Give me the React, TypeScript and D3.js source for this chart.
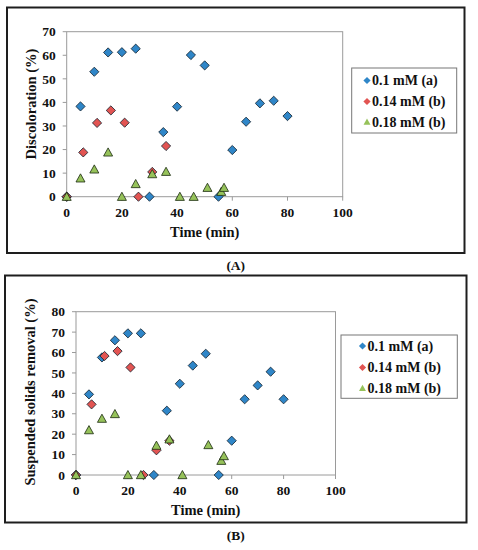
import React from "react";
import * as d3 from "d3";

// ---- Data (A) Discoloration ----
const blueAX = [0, 5, 10, 15, 20, 25, 30, 35, 40, 45, 50, 55, 60, 65, 70, 75, 80];
const blueAY = [0, 38.3, 53, 61.2, 61.3, 62.8, 0, 27.4, 38.2, 60.1, 55.7, 0, 19.8, 31.8, 39.6, 40.7, 34.2];
const redAX = [0, 6, 11, 16, 21, 26, 31, 36];
const redAY = [0, 18.8, 31.3, 36.6, 31.4, 0, 10.5, 21.5];
const greenAX = [0, 5, 10, 15, 20, 25, 31, 36, 41, 46, 51, 56, 57];
const greenAY = [0, 7.8, 11.6, 18.8, 0, 5.4, 9.6, 10.6, 0, 0, 3.8, 2.1, 3.8];

// ---- Data (B) Suspended solids removal ----
const blueBX = [0, 5, 10, 15, 20, 25, 30, 35, 40, 45, 50, 55, 60, 65, 70, 75, 80];
const blueBY = [0, 39.5, 57.6, 66, 69.4, 69.4, 0, 31.5, 44.7, 53.6, 59.4, 0, 16.8, 37.1, 43.9, 50.6, 37.1];
const redBX = [0, 6, 11, 16, 21, 26, 31, 36];
const redBY = [0, 34.6, 58.3, 60.7, 52.7, 0, 12.1, 16.8];
const greenBX = [0, 5, 10, 15, 20, 25, 31, 36, 41, 51, 56, 57];
const greenBY = [0, 22, 27.6, 29.9, 0, 0, 14.4, 17.5, 0, 14.7, 7, 9.3];

const seriesNames = ["0.1 mM (a)", "0.14 mM (b)", "0.18 mM (b)"];
const xTicks = [0, 20, 40, 60, 80, 100];
const yTicksA = [0, 10, 20, 30, 40, 50, 60, 70];
const yTicksB = [0, 10, 20, 30, 40, 50, 60, 70, 80];

const COLORS = ["#2f86c8", "#e25452", "#96c25a"];
const FONT = "'Liberation Serif', 'Times New Roman', serif";

type Pt = [number, number];
const zip = (xs: number[], ys: number[]): Pt[] => xs.map((x, i) => [x, ys[i]]);

function Marker({ kind, x, y, r, color, stroke }: { kind: string; x: number; y: number; r: number; color: string; stroke: boolean }) {
  if (kind === "tri") {
    const h = r * 1.9;
    const w = r * 2.1;
    const d = `M${x},${y - h * 0.55}L${x + w / 2},${y + h * 0.45}L${x - w / 2},${y + h * 0.45}Z`;
    return <path d={d} fill={color} stroke={stroke ? "#1b2a10" : "none"} strokeWidth={0.8} />;
  }
  const d = `M${x},${y - r}L${x + r},${y}L${x},${y + r}L${x - r},${y}Z`;
  return <path d={d} fill={color} stroke={stroke ? "#10202c" : "none"} strokeWidth={0.8} />;
}

function Panel(props: {
  frame: [number, number, number, number];
  plot: [number, number, number, number];
  yMax: number;
  yTicks: number[];
  yTitle: string;
  yTitleX: number;
  yTitleY: number;
  legend: [number, number, number, number];
  legendRows: number[];
  legendMarkerX: number;
  series: Pt[][];
  label: string;
  labelY: number;
}) {
  const [fx0, fy0, fx1, fy1] = props.frame;
  const [px0, py0, px1, py1] = props.plot;
  const x = d3.scaleLinear().domain([0, 100]).range([px0, px1]);
  const y = d3.scaleLinear().domain([0, props.yMax]).range([py1, py0]);
  const kinds = ["dia", "dia", "tri"];
  const [lx0, ly0, lx1, ly1] = props.legend;
  return (
    <g>
      <rect x={fx0} y={fy0} width={fx1 - fx0} height={fy1 - fy0} fill="#fff" stroke="#1e1e1e" strokeWidth={2} />
      <rect x={px0} y={py0} width={px1 - px0} height={py1 - py0} fill="none" stroke="#9a9a9a" strokeWidth={1} />
      {props.yTicks.map((t) => (
        <g key={"y" + t}>
          <line x1={px0 - 4} x2={px0} y1={y(t)} y2={y(t)} stroke="#9a9a9a" />
          <text x={px0 - 11} y={y(t)} dy="0.35em" textAnchor="end" fontFamily={FONT} fontWeight="bold" fontSize={13.5} fill="#111">
            {t}
          </text>
        </g>
      ))}
      {xTicks.map((t) => (
        <g key={"x" + t}>
          <line x1={x(t)} x2={x(t)} y1={py1} y2={py1 + 4} stroke="#9a9a9a" />
          <text x={x(t)} y={py1 + 20} textAnchor="middle" fontFamily={FONT} fontWeight="bold" fontSize={13.5} fill="#111">
            {t}
          </text>
        </g>
      ))}
      <text x={(px0 + px1) / 2} y={py1 + 40} textAnchor="middle" fontFamily={FONT} fontWeight="bold" fontSize={14.5} fill="#111">
        Time (min)
      </text>
      <text
        transform={`translate(${props.yTitleX},${props.yTitleY}) rotate(-90)`}
        textAnchor="middle"
        dy="0.35em"
        fontFamily={FONT}
        fontWeight="bold"
        fontSize={14.5}
        fill="#111"
      >
        {props.yTitle}
      </text>
      {props.series.map((s, si) =>
        s.map((p, i) => (
          <Marker key={si + "-" + i} kind={kinds[si]} x={x(p[0])} y={y(p[1])} r={kinds[si] === "tri" ? 4.3 : 4.6} color={COLORS[si]} stroke={true} />
        ))
      )}
      <rect x={lx0} y={ly0} width={lx1 - lx0} height={ly1 - ly0} fill="#fff" stroke="#777" strokeWidth={1} />
      {seriesNames.map((n, i) => (
        <g key={n}>
          <Marker kind={kinds[i]} x={props.legendMarkerX} y={props.legendRows[i]} r={kinds[i] === "tri" ? 3.3 : 3.6} color={COLORS[i]} stroke={false} />
          <text x={props.legendMarkerX + 5} y={props.legendRows[i]} dy="0.35em" fontFamily={FONT} fontWeight="bold" fontSize={14} fill="#111">
            {n}
          </text>
        </g>
      ))}
      <text x={(fx0 + fx1) / 2} y={props.labelY} textAnchor="middle" dy="0.35em" fontFamily={FONT} fontWeight="bold" fontSize={13.5} fill="#111">
        {props.label}
      </text>
    </g>
  );
}

export default function App() {
  return (
    <svg width={478} height={550} style={{ position: "absolute", left: 0, top: 0, background: "#fff" }}>
      <Panel
        frame={[7, 7.5, 464.5, 253]}
        plot={[66.7, 31.7, 342.7, 196.7]}
        yMax={70}
        yTicks={yTicksA}
        yTitle="Discoloration (%)"
        yTitleX={31}
        yTitleY={104}
        legend={[351.7, 68, 456.7, 133]}
        legendRows={[80.5, 101.5, 122]}
        legendMarkerX={367}
        series={[zip(blueAX, blueAY), zip(redAX, redAY), zip(greenAX, greenAY)]}
        label="(A)"
        labelY={265}
      />
      <Panel
        frame={[5, 275.5, 466.5, 522.5]}
        plot={[76, 311.7, 335.5, 475]}
        yMax={80}
        yTicks={yTicksB}
        yTitle="Suspended solids removal (%)"
        yTitleX={30}
        yTitleY={392}
        legend={[341, 335, 457.3, 398.3]}
        legendRows={[346, 367.5, 388.3]}
        legendMarkerX={362.5}
        series={[zip(blueBX, blueBY), zip(redBX, redBY), zip(greenBX, greenBY)]}
        label="(B)"
        labelY={535}
      />
    </svg>
  );
}
